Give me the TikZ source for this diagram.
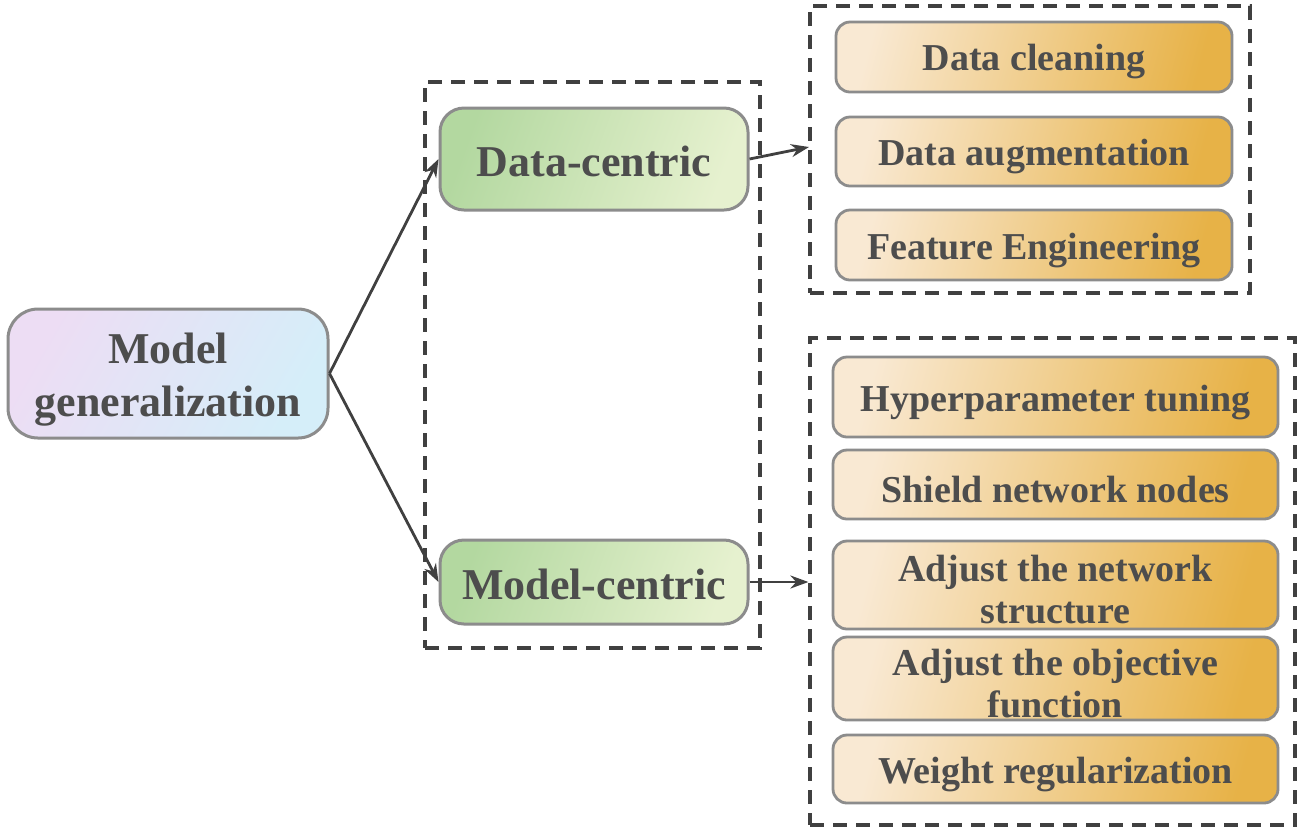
\documentclass[tikz,border=0pt]{standalone}
\usepackage{fontspec}
\setmainfont{Liberation Serif}
\usetikzlibrary{arrows.meta}
\definecolor{txt}{HTML}{4D4D4D}
\definecolor{bord}{HTML}{8C8C8C}
\definecolor{dsh}{HTML}{404040}
\definecolor{purpA}{HTML}{EDDDF4}
\definecolor{purpB}{HTML}{D5EEF9}
\definecolor{greenA}{HTML}{B3D8A0}
\definecolor{greenB}{HTML}{E6F1CF}
\definecolor{yelA}{HTML}{F9E9D3}
\definecolor{yelB}{HTML}{E7B247}
\tikzset{
  rbox/.style={draw=bord, line width=1.5pt, rounded corners=12pt, inner sep=0pt},
  bigtxt/.style={align=center, text=txt, inner sep=0pt, font=\bfseries\fontsize{22}{26.5}\selectfont},
  smltxt/.style={align=center, text=txt, inner sep=0pt, font=\bfseries\fontsize{19}{21}\selectfont},
  purp/.style={rbox, left color=purpA, right color=purpB, shading angle=60, rounded corners=15pt,
     label={[bigtxt, yshift=-3pt]center:#1}},
  grn/.style={rbox, left color=greenA, right color=greenB, shading angle=70,
     label={[bigtxt, yshift=-1pt]center:#1}},
  yel/.style={rbox, left color=yelA, right color=yelB, shading angle=75, rounded corners=7pt, line width=1.4pt,
     label={[smltxt, yshift=-2.5pt]center:#1}},
  dbox/.style={draw=dsh, line width=1.6pt, dash pattern=on 7pt off 4.5pt, inner sep=0pt},
  arr/.style={draw=dsh, line width=1.4pt, -{Stealth[length=9pt,width=6.5pt]}}
}
\begin{document}
\begin{tikzpicture}[x=0.5pt,y=-0.5pt]
\useasboundingbox (0,0) rectangle (1304,832);
% dashed containers
\node[dbox, minimum width=167.5pt, minimum height=283pt] (mid) at (592.5,365) {};
\node[dbox, minimum width=220pt, minimum height=143.5pt] (top) at (1030,149.5) {};
\node[dbox, minimum width=242.5pt, minimum height=243.5pt] (bot) at (1052.5,581.5) {};
% main nodes
\node[purp={Model\\generalization}, minimum width=160pt, minimum height=64.5pt] (mg) at (168,373.5) {};
\node[grn={Data-centric}, minimum width=154pt, minimum height=51pt] (dc) at (594,159) {};
\node[grn={Model-centric}, minimum width=154pt, minimum height=42pt] (mc) at (594,582) {};
% top yellow
\node[yel={Data cleaning}, minimum width=198pt, minimum height=35pt] (y1) at (1034,57) {};
\node[yel={Data augmentation}, minimum width=198pt, minimum height=34.5pt] (y2) at (1034,151.5) {};
\node[yel={Feature Engineering}, minimum width=198pt, minimum height=35pt] (y3) at (1034,245) {};
% bottom yellow
\node[yel={Hyperparameter tuning}, minimum width=222.5pt, minimum height=40pt] (z1) at (1055.5,397) {};
\node[yel={Shield network nodes}, minimum width=222.5pt, minimum height=34.5pt] (z2) at (1055.5,484.5) {};
\node[yel={Adjust the network\\structure}, minimum width=222.5pt, minimum height=44pt] (z3) at (1055.5,585) {};
\node[yel={Adjust the objective\\function}, minimum width=222.5pt, minimum height=41.5pt] (z4) at (1055.5,678.5) {};
\node[yel={Weight regularization}, minimum width=222.5pt, minimum height=34pt] (z5) at (1055.5,769) {};
% connectors
\coordinate (t1) at (809,147);
\draw[arr] (mg.east) -- (dc.west);
\draw[arr] (mg.east) -- (mc.west);
\draw[arr] (dc.east) -- (t1);
\draw[arr] (mc.east) -- (mc.east -| bot.west);
\end{tikzpicture}
\end{document}
